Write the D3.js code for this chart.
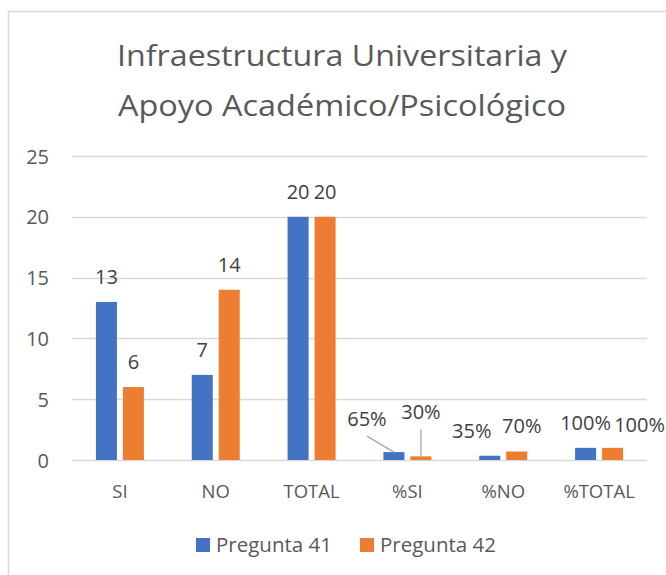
<!DOCTYPE html>
<html><head><meta charset="utf-8">
<script src="https://cdn.jsdelivr.net/npm/d3@7/dist/d3.min.js"></script>
<style>
html,body{margin:0;padding:0;background:#fff;}
svg{display:block;font-family:"Open Sans",sans-serif;}
</style></head>
<body>
<svg id="c" width="666" height="575"></svg>
<script>
const titleLines = ["Infraestructura Universitaria y", "Apoyo Académico/Psicológico"];
const categories = ["SI", "NO", "TOTAL", "%SI", "%NO", "%TOTAL"];
const seriesNames = ["Pregunta 41", "Pregunta 42"];
const pregunta41 = [13, 7, 20, 0.65, 0.35, 1];
const pregunta42 = [6, 14, 20, 0.30, 0.70, 1];
const percentCategories = ["%SI", "%NO", "%TOTAL"];
const yTicks = [0, 5, 10, 15, 20, 25];
const colors = ["#4472C4", "#ED7D31"];

(function () {
// label nudges (Excel overlap avoidance), keyed series|category
const nudge = {
  "Pregunta 41|%SI": {dx: -27, dy: -8, leader: true},
  "Pregunta 42|%SI": {dx: 0, dy: -19, leader: true},
  "Pregunta 41|%NO": {dx: -18, dy: 0},
  "Pregunta 42|%NO": {dx: 5, dy: 0},
  "Pregunta 42|%TOTAL": {dx: 27, dy: 2}
};

const svg = d3.select("#c");
const textColor = "#595959";
const gridColor = "#d9d9d9";

// chart border
svg.append("rect").attr("x", 8.5).attr("y", 11.5).attr("width", 700).attr("height", 600)
  .attr("fill", "none").attr("stroke", gridColor).attr("stroke-width", 1.5);

// title
const title = svg.append("g");
titleLines.forEach((t, i) => {
  const el = title.append("text").attr("x", 342).attr("y", 66 + i * 50)
    .attr("text-anchor", "middle").attr("fill", textColor)
    .attr("font-size", 29.5).attr("font-weight", 400).text(t);
  const w = el.node().getComputedTextLength();
  const target = i === 0 ? 450 : 448;
  if (Math.abs(w - target) > 3) el.attr("textLength", target).attr("lengthAdjust", "spacingAndGlyphs");
});

const pLeft = 72, pRight = 647, pTop = 156, pBottom = 460;
const x0 = d3.scaleBand().domain(categories).range([pLeft, pRight]).padding(0);
const y = d3.scaleLinear().domain([0, 25]).range([pBottom, pTop]);
const x1 = d3.scaleBand().domain(seriesNames).paddingInner(0.222);

// gridlines
svg.append("g").selectAll("line").data(yTicks).join("line")
  .attr("x1", pLeft).attr("x2", pRight)
  .attr("y1", d => Math.round(y(d)) + 0.5).attr("y2", d => Math.round(y(d)) + 0.5)
  .attr("stroke", gridColor).attr("stroke-width", 1.5);

// y axis labels
const yAxis = d3.axisLeft(y).tickValues(yTicks).tickSize(0).tickPadding(0);
const ya = svg.append("g").attr("transform", `translate(49,0)`).call(yAxis);
ya.select(".domain").remove();
ya.selectAll("text").attr("font-size", 20).attr("fill", textColor)
  .attr("font-family", "Open Sans").attr("dy", "0.35em");

// x axis labels
const xAxis = d3.axisBottom(x0).tickSize(0).tickPadding(0);
const xa = svg.append("g").attr("transform", `translate(0,${pBottom})`).call(xAxis);
xa.select(".domain").remove();
xa.selectAll("text").attr("font-size", 18.5).attr("fill", textColor)
  .attr("font-family", "Open Sans").attr("dy", null).attr("y", 38);

// bars
const seriesData = [pregunta41, pregunta42];
const rows = [];
categories.forEach((c, ci) => {
  seriesNames.forEach((s, si) => rows.push({cat: c, series: s, si, value: seriesData[si][ci]}));
});
const groupWidth = 48;
function barX(d) {
  const c = x0(d.cat) + x0.bandwidth() / 2;
  x1.range([c - groupWidth / 2, c + groupWidth / 2]);
  return x1(d.series);
}
const bw = () => x1.bandwidth();
svg.append("g").selectAll("rect").data(rows).join("rect")
  .attr("x", d => barX(d))
  .attr("width", () => bw())
  .attr("y", d => y(d.value))
  .attr("height", d => pBottom - y(d.value))
  .attr("fill", d => colors[d.si]);

// data labels
const pct = d3.format(".0%");
const lab = svg.append("g");
rows.forEach(d => {
  const bx = barX(d) + bw() / 2;
  const n = nudge[d.series + "|" + d.cat] || {dx: 0, dy: 0};
  const lx = bx + n.dx, ly = y(d.value) - 18 + n.dy;
  lab.append("text").attr("x", lx).attr("y", ly).attr("text-anchor", "middle")
    .attr("font-size", 20).attr("fill", "#404040")
    .text(percentCategories.includes(d.cat) ? pct(d.value) : d.value);
  if (n.leader) {
    lab.append("line").attr("x1", lx).attr("y1", ly + 10).attr("x2", bx).attr("y2", y(d.value))
      .attr("stroke", "#a6a6a6").attr("stroke-width", 1.3);
  }
});

// legend
const legendX = [196, 360];
const lg = svg.append("g");
seriesNames.forEach((s, i) => {
  lg.append("rect").attr("x", legendX[i]).attr("y", 538).attr("width", 14).attr("height", 14).attr("fill", colors[i]);
  const t = lg.append("text").attr("x", legendX[i] + 20).attr("y", 552).attr("font-size", 20.5)
    .attr("fill", textColor).text(s);
  const w = t.node().getComputedTextLength();
  if (Math.abs(w - 116) > 3) t.attr("textLength", 116).attr("lengthAdjust", "spacingAndGlyphs");
});
})();
</script>
</body></html>
